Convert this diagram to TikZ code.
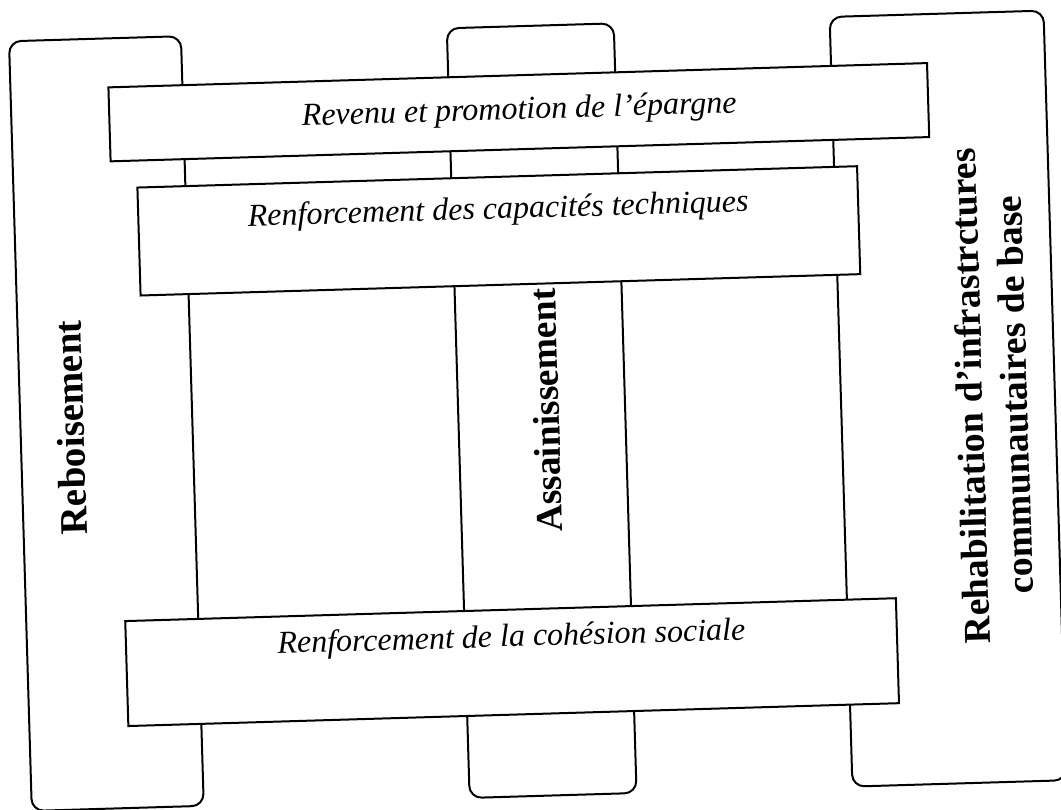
\documentclass[tikz,border=0pt]{standalone}
\usepackage{fontspec}
\setmainfont{Liberation Serif}
\begin{document}
\begin{tikzpicture}[x=1pt,y=-1pt,
  col/.style={draw, line width=2pt, rounded corners=12pt, fill=white, inner sep=0pt, minimum height=770pt, transform shape},
  bar/.style={draw, line width=2pt, fill=white, inner sep=0pt, transform shape},
  bartext/.style={font=\fontsize{32}{38}\selectfont\itshape, inner sep=0pt, anchor=base, transform shape},
  coltext/.style={inner sep=0pt, rotate=90, transform shape, align=center}]
\useasboundingbox (0,0) rectangle (1061,810);
\clip (0,0) rectangle (1061,810);
\fill[white] (0,0) rectangle (1061,810);
\begin{scope}[rotate around={1.7:(530,405)}]
  % vertical columns
  \node[col, minimum width=172pt] (reb) at (106,411) {};
  \node[col, minimum width=167pt] (ass) at (541.5,411) {};
  \node[col, minimum width=214pt] (reh) at (948,411) {};
  % horizontal bars
  \node[bar, minimum width=819pt, minimum height=74pt] (rev) at (527.5,112) {};
  \node[bar, minimum width=720pt, minimum height=108pt] (cap) at (504,230) {};
  \node[bar, minimum width=771pt, minimum height=105pt] (coh) at (504.5,661.5) {};
  % bar texts
  \node[bartext] (trev) at (528,119) {Revenu et promotion de l'épargne};
  \node[bartext] (tcap) at (504,218) {Renforcement des capacités techniques};
  \node[bartext] (tcoh) at (504.5,646) {Renforcement de la cohésion sociale};
  % column texts
  \node[coltext, font=\fontsize{39}{45}\selectfont\bfseries] (treb) at (70,414) {Reboisement};
  \node[coltext, font=\fontsize{37.5}{44}\selectfont\bfseries] (tass) at (546,411) {Assainissement};
  \node[coltext, font=\fontsize{37.8}{44.5}\selectfont\bfseries] (treh) at (992,409) {Rehabilitation d'infrastrctures\\communautaires de base};
\end{scope}
\end{tikzpicture}
\end{document}
